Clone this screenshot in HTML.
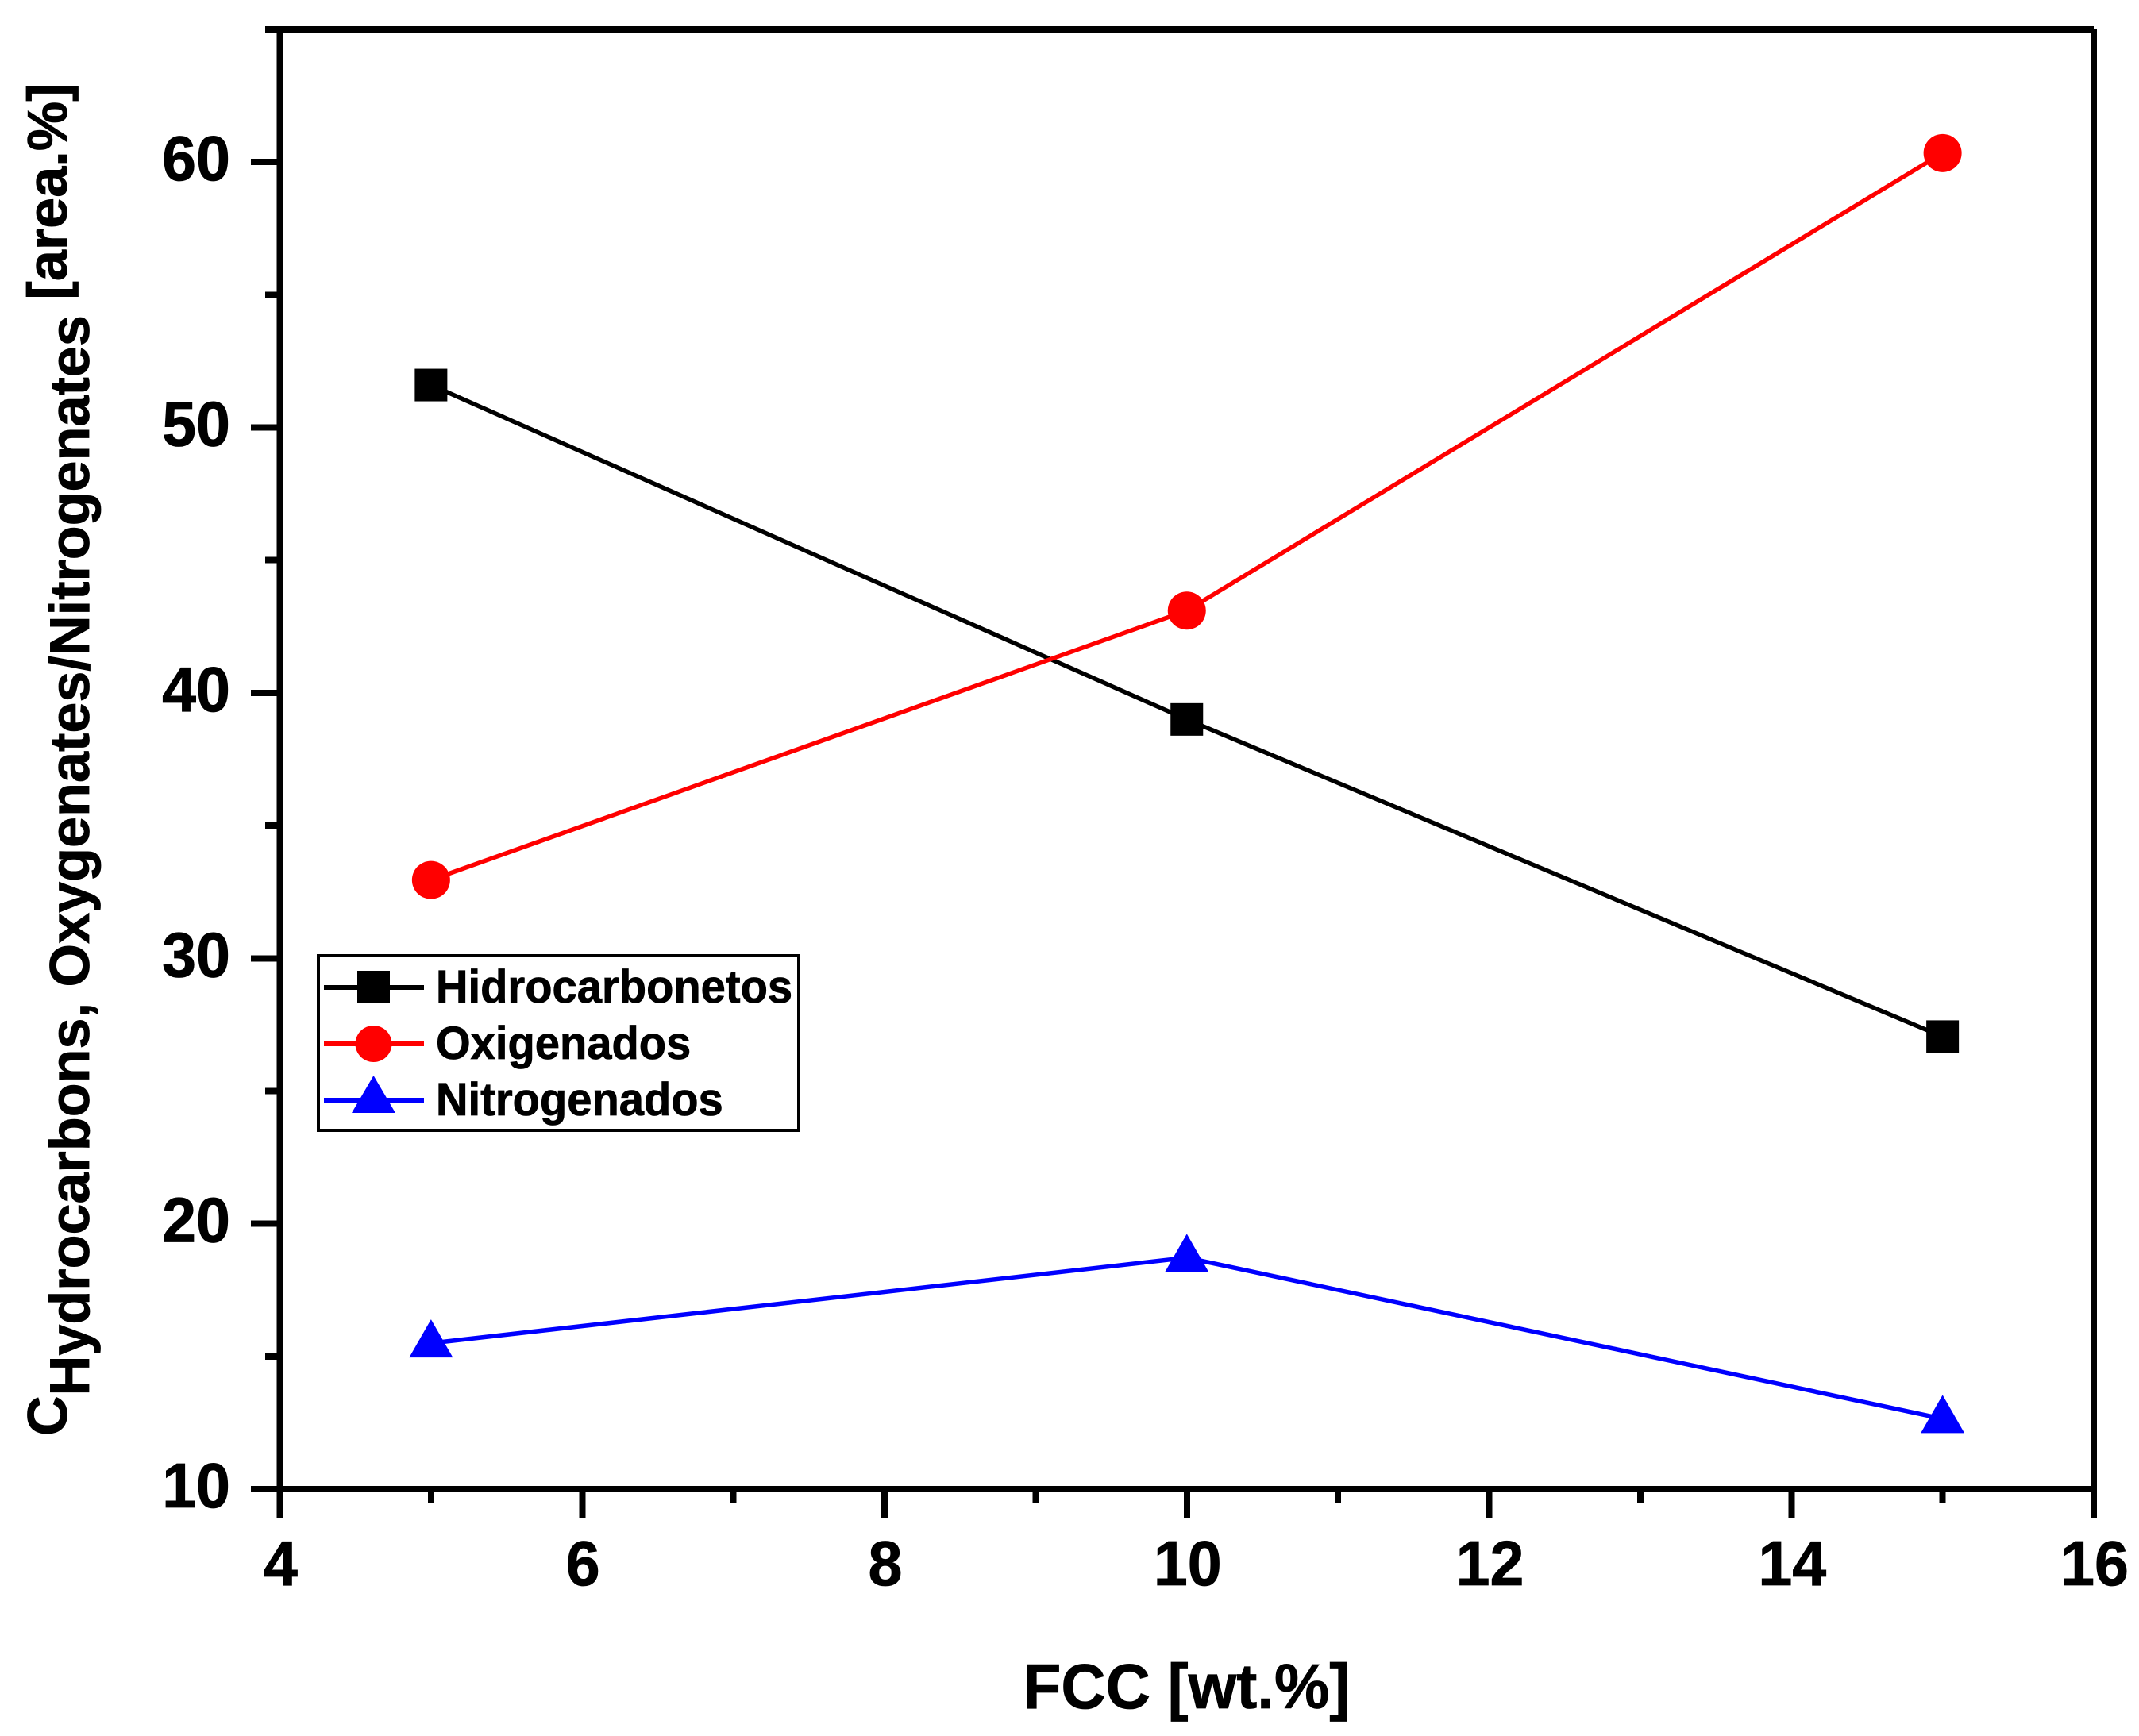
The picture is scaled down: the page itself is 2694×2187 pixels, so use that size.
<!DOCTYPE html>
<html lang="en">
<head>
<meta charset="utf-8">
<title>FCC wt.% chart</title>
<style>
html,body{margin:0;padding:0;background:#fff;}
svg{display:block;}
text{font-family:"Liberation Sans",Arial,sans-serif;font-weight:bold;fill:#000;stroke:#000;stroke-width:0.8px;}
</style>
</head>
<body>
<svg id="chart" xmlns="http://www.w3.org/2000/svg" width="2694" height="2187" viewBox="0 0 2694 2187">
  <rect x="0" y="0" width="2694" height="2187" fill="#fff"/>
  <g id="axes"></g>
  <g id="series"></g>
  <text transform="translate(1494.5,2152) scale(0.975,1)" font-size="80" text-anchor="middle">FCC [wt.%]</text>
  <text transform="translate(84,1809) rotate(-90)" font-size="70.2">C<tspan dy="28">Hydrocarbons, Oxygenates/Nitrogenates</tspan><tspan dy="-28"> [area.%]</tspan></text>
  <g>
    <rect x="401" y="1204" width="605" height="220" fill="#fff" stroke="#000" stroke-width="4"/>
    <g>
      <line x1="408" y1="1244" x2="534" y2="1244" stroke="#000" stroke-width="6"/>
      <rect x="450" y="1223" width="41" height="41" fill="#000"/>
      <text transform="translate(549,1263) scale(0.968,1)" font-size="58">Hidrocarbonetos</text>
    </g>
    <g>
      <line x1="408" y1="1315" x2="534" y2="1315" stroke="#f00" stroke-width="6"/>
      <circle cx="470.5" cy="1315" r="23" fill="#f00"/>
      <text transform="translate(549,1334) scale(0.968,1)" font-size="58">Oxigenados</text>
    </g>
    <g>
      <line x1="408" y1="1386" x2="534" y2="1386" stroke="#00f" stroke-width="6"/>
      <polygon points="470.5,1355 498,1402 443,1402" fill="#00f"/>
      <text transform="translate(549,1405) scale(0.968,1)" font-size="58">Nitrogenados</text>
    </g>
  </g>
</svg>
<script>
const categories = [5, 10, 15];
const hidrocarbonetos = [51.6, 39.0, 27.05];
const oxigenados = [32.95, 43.1, 60.34];
const nitrogenados = [15.5, 18.72, 12.65];
const xMajorTicks = [4, 6, 8, 10, 12, 14, 16];
const xMinorTicks = [5, 7, 9, 11, 13, 15];
const yMajorTicks = [10, 20, 30, 40, 50, 60];
const yMinorTicks = [15, 25, 35, 45, 55, 65];
const xDomain = [4, 16];
const yDomain = [10, 65];

const NS = 'http://www.w3.org/2000/svg';
const PLOT = { left: 352.5, right: 2637, top: 37, bottom: 1876 };
function xScale(v) {
  return PLOT.left + (v - xDomain[0]) / (xDomain[1] - xDomain[0]) * (PLOT.right - PLOT.left);
}
function yScale(v) {
  return PLOT.bottom - (v - yDomain[0]) / (yDomain[1] - yDomain[0]) * (PLOT.bottom - PLOT.top);
}
function make(tag, parent, attrs) {
  const el = document.createElementNS(NS, tag);
  for (const k in attrs) el.setAttribute(k, attrs[k]);
  parent.appendChild(el);
  return el;
}
const axes = document.getElementById('axes');
const seriesLayer = document.getElementById('series');

function axisLine(x1, y1, x2, y2) {
  return make('line', axes, { x1: x1, y1: y1, x2: x2, y2: y2, stroke: '#000', 'stroke-width': 8, 'shape-rendering': 'crispEdges' });
}

let el;
el = axisLine(PLOT.left, yScale(yDomain[1]), PLOT.left, 1912);


el = axisLine(PLOT.right, yScale(yDomain[1]), PLOT.right, 1912);


el = axisLine(PLOT.left, yScale(yDomain[1]), PLOT.right, yScale(yDomain[1]));


el = axisLine(PLOT.left, yScale(yDomain[0]), PLOT.right, yScale(yDomain[0]));



xMajorTicks.forEach(function (v) {
  const tick = axisLine(xScale(v), PLOT.bottom, xScale(v), 1912);
  
  
  const label = make('text', axes, { transform: 'translate(' + (xScale(v) + 1) + ',1997) scale(0.965,1)', 'font-size': 80, 'text-anchor': 'middle' });
  label.textContent = String(v);
  
  
});
xMinorTicks.forEach(function (v) {
  const tick = axisLine(xScale(v), PLOT.bottom, xScale(v), 1894);
  
  
});
yMajorTicks.forEach(function (v) {
  const tick = axisLine(316, yScale(v), PLOT.left, yScale(v));
  
  
  const label = make('text', axes, { transform: 'translate(290,' + (yScale(v) + 23) + ') scale(0.965,1)', 'font-size': 80, 'text-anchor': 'end' });
  label.textContent = String(v);
  
  
});
yMinorTicks.forEach(function (v) {
  const tick = axisLine(334, yScale(v), PLOT.left, yScale(v));
  
  
});

function drawLine(values, color) {
  const pts = values.map(function (v, i) { return xScale(categories[i]) + ',' + yScale(v); }).join(' ');
  return make('polyline', seriesLayer, { points: pts, fill: 'none', stroke: color, 'stroke-width': 5.5 });
}

let line;
line = drawLine(hidrocarbonetos, '#000');


hidrocarbonetos.forEach(function (v, i) {
  const m = make('rect', seriesLayer, { x: xScale(categories[i]) - 20.5, y: yScale(v) - 20.5, width: 41, height: 41, fill: '#000' });
  
  
});

line = drawLine(oxigenados, '#f00');


oxigenados.forEach(function (v, i) {
  const m = make('circle', seriesLayer, { cx: xScale(categories[i]), cy: yScale(v), r: 24, fill: '#f00' });
  
  
});

line = drawLine(nitrogenados, '#00f');


nitrogenados.forEach(function (v, i) {
  const cx = xScale(categories[i]);
  const cy = yScale(v);
  const pts = cx + ',' + (cy - 30) + ' ' + (cx + 27.5) + ',' + (cy + 18) + ' ' + (cx - 27.5) + ',' + (cy + 18);
  const m = make('polygon', seriesLayer, { points: pts, fill: '#00f' });
  
  
});
</script>
</body>
</html>
